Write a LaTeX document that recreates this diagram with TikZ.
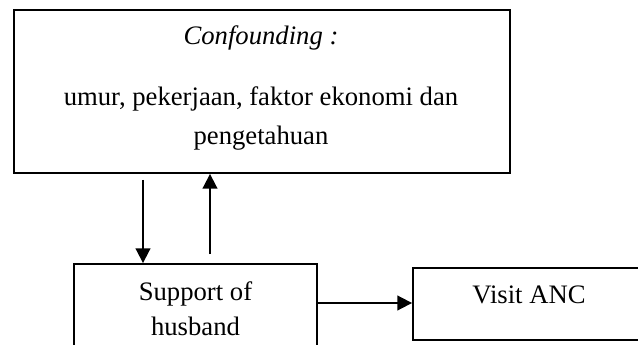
\documentclass[tikz,border=0pt]{standalone}
\usepackage{fontspec}
\setmainfont{Liberation Serif}
\usetikzlibrary{arrows.meta}
\begin{document}
\begin{tikzpicture}[x=0.75pt,y=-0.75pt,
  box/.style={draw,line width=1.4pt,rectangle,inner sep=0pt},
  txt/.style={anchor=base,inner sep=0pt,font=\fontsize{20}{24}\selectfont},
  arr/.style={line width=1.4pt,-{Triangle[length=11pt,width=11pt]}}]
\useasboundingbox (0,0) rectangle (638,345);
\clip (0,0) rectangle (638,345);
\node[box,minimum width=496*0.75pt,minimum height=163*0.75pt] (conf) at (262,91.5) {};
\node[box,minimum width=243*0.75pt,minimum height=90*0.75pt] (sup) at (195.5,309) {};
\node[box,minimum width=231*0.75pt,minimum height=72*0.75pt] (anc) at (528.5,304) {};
\node[txt] (t1) at (261,45) {\itshape Confounding :};
\node[txt] (t2) at (261,106) {umur, pekerjaan, faktor ekonomi dan};
\node[txt] (t3) at (261,145) {pengetahuan};
\node[txt] (t4) at (195.5,300) {Support of};
\node[txt] (t5) at (195.5,335) {husband};
\node[txt] (t6) at (529,303) {Visit ANC};
\coordinate (xd) at (143,0);
\coordinate (xu) at (210,0);
\coordinate (yh) at (0,303);
\draw[arr,shorten <=4.5pt] (conf.south -| xd) -- (sup.north -| xd);
\draw[arr,shorten <=6.75pt] (sup.north -| xu) -- (conf.south -| xu);
\draw[arr] (sup.east |- yh) -- (anc.west |- yh);
\end{tikzpicture}
\end{document}
